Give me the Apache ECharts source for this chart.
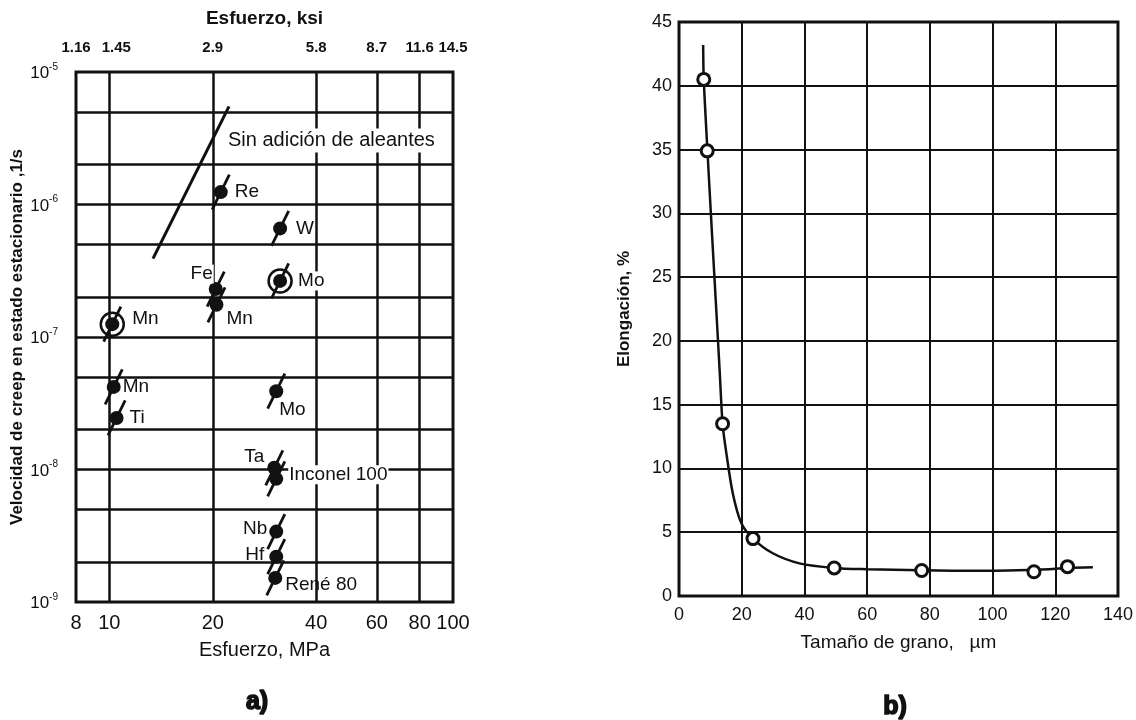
<!DOCTYPE html>
<html>
<head>
<meta charset="utf-8">
<script src="https://cdn.jsdelivr.net/npm/echarts@6/dist/echarts.min.js"></script>
<style>
  html, body { margin: 0; padding: 0; background: #fff; }
  #chart { width: 1136px; height: 720px; }
</style>
</head>
<body>
<div id="chart"></div>
<script>
// ---------- (a) Steady-state creep rate vs. stress (log–log) ----------
const stressTicksMPa = [8, 10, 20, 40, 60, 80, 100];
const stressTicksKsi = ['1.16', '1.45', '2.9', '5.8', '8.7', '11.6', '14.5'];
const stressGridMPa = [10, 20, 40, 60, 80];
const rateTicks = [1e-9, 1e-8, 1e-7, 1e-6, 1e-5];
const rateGrid = [2e-9, 5e-9, 1e-8, 2e-8, 5e-8, 1e-7, 2e-7, 5e-7, 1e-6, 2e-6, 5e-6];

const alloyNames  = ['Re', 'W', 'Mo', 'Fe', 'Mn', 'Mn', 'Mn', 'Ti', 'Mo', 'Ta', 'Inconel 100', 'Nb', 'Hf', 'René 80'];
const alloyStress = [21.1, 31.4, 31.4, 20.4, 20.5, 10.2, 10.3, 10.5, 30.6, 30.2, 30.6, 30.6, 30.6, 30.4];
const alloyRate   = [1.24e-6, 6.6e-7, 2.65e-7, 2.3e-7, 1.75e-7, 1.25e-7, 4.2e-8, 2.45e-8, 3.9e-8, 1.03e-8, 8.5e-9, 3.4e-9, 2.2e-9, 1.52e-9];
const alloyRinged = [false, false, true, false, false, true, false, false, false, false, false, false, false, false];

// unalloyed material: straight line
const pureStress = [13.4, 22.3];
const pureRate   = [3.9e-7, 5.5e-6];
const pureLabel  = 'Sin adición de aleantes';

// ---------- (b) Elongation vs. grain size ----------
const grainSize  = [7.9, 9.0, 13.9, 23.6, 49.5, 77.4, 113.2, 123.9];
const elongation = [40.5, 34.9, 13.5, 4.5, 2.2, 2.0, 1.9, 2.3];
const trendSize  = [7.7, 7.9, 9.05, 10.5, 12.1, 13.0, 13.9, 15.1, 17.2, 19.9, 23.6, 29.9, 38.4, 49.5, 60, 77, 91, 105, 118, 124, 132];
const trendElong = [43.2, 40.5, 35.0, 28.5, 21.5, 17.5, 13.5, 11.2, 8.0, 5.7, 4.5, 3.35, 2.56, 2.2, 2.1, 2.02, 1.98, 2.0, 2.1, 2.2, 2.25];

// ---------- styling ----------
const INK = '#111';
const FONT = "'Liberation Sans', Arial, sans-serif";

// label placement for each alloy marker; 'mask' labels sit on a white box over grid lines
const alloyLabelStyle = [
  { position: 'right', offset: [2, 0] },
  { position: 'right', offset: [4, 0] },
  { position: 'right', offset: [5, 0], mask: true },
  { position: 'left',  offset: [10, -15], mask: true },
  { position: 'right', offset: [-2, 14] },
  { position: 'right', offset: [8, -5] },
  { position: 'right', offset: [-3, 0] },
  { position: 'right', offset: [1, 0] },
  { position: 'right', offset: [-9, 19] },
  { position: 'left',  offset: [2, -11] },
  { position: 'right', offset: [0, -4], mask: true },
  { position: 'left',  offset: [3, -3] },
  { position: 'left',  offset: [0, -2] },
  { position: 'right', offset: [-2, 7] }
];

// short stress-exponent segment through each marker (log-space half spans)
const SEG_DX = 0.025, SEG_DY = 0.132;
const segmentData = alloyStress.map((s, i) => ({
  coords: [
    [s * Math.pow(10, -SEG_DX), alloyRate[i] * Math.pow(10, -SEG_DY)],
    [s * Math.pow(10, SEG_DX),  alloyRate[i] * Math.pow(10, SEG_DY)]
  ]
}));

const dotData = alloyStress.map((s, i) => {
  const st = alloyLabelStyle[i];
  return {
    value: [s, alloyRate[i]],
    name: alloyNames[i],
    label: {
      position: st.position,
      offset: st.offset,
      backgroundColor: st.mask ? '#fff' : 'transparent',
      padding: st.mask ? [0, 1] : 0
    }
  };
});

const ringData = alloyStress
  .map((s, i) => (alloyRinged[i] ? [s, alloyRate[i]] : null))
  .filter(Boolean);

function ksiFor(v) {
  for (let i = 0; i < stressTicksMPa.length; i++) {
    if (Math.abs(stressTicksMPa[i] - v) / stressTicksMPa[i] < 1e-4) {
      // the second label is nudged right so it clears the first one
      return i === 1 ? '{p|' + stressTicksKsi[i] + '}' : stressTicksKsi[i];
    }
  }
  return '';
}

const chart = echarts.init(document.getElementById('chart'), null, { renderer: 'canvas' });

const option = {
  backgroundColor: '#fff',
  animation: false,
  textStyle: { fontFamily: FONT, color: INK },
  grid: [
    { left: 76, top: 72, width: 377, height: 530, show: true, borderColor: INK, borderWidth: 3, backgroundColor: 'transparent' },
    { left: 679, top: 22, width: 441, height: 574, show: true, borderColor: INK, borderWidth: 3, backgroundColor: 'transparent' }
  ],
  xAxis: [
    {
      gridIndex: 0, type: 'log', logBase: 10, min: 8, max: 100, position: 'bottom',
      name: 'Esfuerzo, MPa', nameLocation: 'middle', nameGap: 38,
      nameTextStyle: { fontSize: 20, color: INK, fontFamily: FONT },
      axisLine: { show: false },
      axisTick: { show: false, customValues: stressGridMPa },
      axisLabel: { customValues: stressTicksMPa, fontSize: 20, color: INK, margin: 11,
        formatter: v => String(Math.round(v)) },
      splitLine: { show: true, lineStyle: { color: INK, width: 2.5 } }
    },
    {
      gridIndex: 0, type: 'log', logBase: 10, min: 8, max: 100, position: 'top',
      name: 'Esfuerzo, ksi', nameLocation: 'middle', nameGap: 44,
      nameTextStyle: { fontSize: 19, color: INK, fontFamily: FONT, fontWeight: 'bold' },
      axisLine: { show: false },
      axisTick: { show: false },
      axisLabel: { customValues: stressTicksMPa, fontSize: 15, fontWeight: 'bold', color: INK, margin: 17,
        formatter: v => ksiFor(v),
        rich: { p: { fontSize: 15, fontWeight: 'bold', fontFamily: FONT, color: INK, padding: [0, 0, 0, 14] } } },
      splitLine: { show: false }
    },
    {
      gridIndex: 1, type: 'value', min: 0, max: 140, interval: 20,
      name: 'Tamaño de grano,   µm', nameLocation: 'middle', nameGap: 37,
      nameTextStyle: { fontSize: 19, color: INK, fontFamily: FONT },
      axisLine: { show: false },
      axisTick: { show: false },
      axisLabel: { fontSize: 18, color: INK, margin: 10 },
      splitLine: { show: true, lineStyle: { color: INK, width: 2 } }
    }
  ],
  yAxis: [
    {
      gridIndex: 0, type: 'log', logBase: 10, min: 1e-9, max: 1e-5,
      name: 'Velocidad de creep en estado estacionario ,1/s', nameLocation: 'middle', nameGap: 49,
      nameTextStyle: { fontSize: 17, fontWeight: 'bold', color: INK, fontFamily: FONT },
      axisLine: { show: false },
      axisTick: { show: false, customValues: rateGrid },
      axisLabel: {
        customValues: rateTicks, margin: 18, color: INK,
        formatter: v => '{b|10}{s|' + Math.round(Math.log10(v)) + '}',
        rich: {
          b: { fontSize: 17, lineHeight: 20, verticalAlign: 'bottom', fontFamily: FONT, color: INK },
          s: { fontSize: 10, lineHeight: 20, verticalAlign: 'top', fontFamily: FONT, color: INK }
        }
      },
      splitLine: { show: true, lineStyle: { color: INK, width: 2.5 } }
    },
    {
      gridIndex: 1, type: 'value', min: 0, max: 45, interval: 5,
      name: 'Elongación, %', nameLocation: 'middle', nameGap: 46,
      nameTextStyle: { fontSize: 17, fontWeight: 'bold', color: INK, fontFamily: FONT },
      axisLine: { show: false },
      axisTick: { show: false },
      axisLabel: { fontSize: 18, color: INK, margin: 7 },
      splitLine: { show: true, lineStyle: { color: INK, width: 2 } }
    }
  ],
  series: [
    // (a) unalloyed reference line
    {
      type: 'line', xAxisIndex: 0, yAxisIndex: 0, z: 4,
      data: pureStress.map((s, i) => [s, pureRate[i]]),
      symbol: 'none', lineStyle: { color: INK, width: 3 }
    },
    // (a) caption of the unalloyed line, anchored at its upper end
    {
      type: 'scatter', xAxisIndex: 0, yAxisIndex: 0, z: 6,
      data: [[pureStress[pureStress.length - 1], pureRate[pureRate.length - 1]]],
      symbol: 'circle', symbolSize: 0,
      itemStyle: { color: 'rgba(0,0,0,0)', opacity: 1 },
      label: { show: true, position: 'right', distance: 0, offset: [-4, 34], formatter: pureLabel,
        fontSize: 20, color: INK, fontFamily: FONT, backgroundColor: '#fff', padding: [2, 3] }
    },
    // (a) stress-exponent segments
    {
      type: 'lines', coordinateSystem: 'cartesian2d', xAxisIndex: 0, yAxisIndex: 0, z: 4,
      data: segmentData,
      lineStyle: { color: INK, width: 2.8, opacity: 1 }
    },
    // (a) rings around selected points
    {
      type: 'scatter', xAxisIndex: 0, yAxisIndex: 0, z: 5,
      data: ringData, symbol: 'circle', symbolSize: 23,
      itemStyle: { color: 'rgba(0,0,0,0)', borderColor: INK, borderWidth: 2.5, opacity: 1 }
    },
    // (a) measured points
    {
      type: 'scatter', xAxisIndex: 0, yAxisIndex: 0, z: 6,
      data: dotData, symbol: 'circle', symbolSize: 14,
      itemStyle: { color: INK, opacity: 1 },
      label: { show: true, formatter: '{b}', fontSize: 19, color: INK, fontFamily: FONT }
    },
    // (b) trend curve
    {
      type: 'line', xAxisIndex: 2, yAxisIndex: 1, z: 4,
      data: trendSize.map((g, i) => [g, trendElong[i]]),
      symbol: 'none', smooth: 0.3, lineStyle: { color: INK, width: 2.5 }
    },
    // (b) measured points
    {
      type: 'scatter', xAxisIndex: 2, yAxisIndex: 1, z: 5,
      data: grainSize.map((g, i) => [g, elongation[i]]),
      symbol: 'circle', symbolSize: 12,
      itemStyle: { color: '#fff', borderColor: INK, borderWidth: 3, opacity: 1 }
    }
  ],
  graphic: [
    { type: 'text', x: 257, y: 702, style: { text: 'a)', fontSize: 25, fontWeight: 'bold', fontFamily: FONT, fill: INK, stroke: INK, lineWidth: 1.6, align: 'center', verticalAlign: 'middle' } },
    { type: 'text', x: 895, y: 707, style: { text: 'b)', fontSize: 25, fontWeight: 'bold', fontFamily: FONT, fill: INK, stroke: INK, lineWidth: 1.6, align: 'center', verticalAlign: 'middle' } }
  ]
};

chart.setOption(option);
</script>
</body>
</html>
